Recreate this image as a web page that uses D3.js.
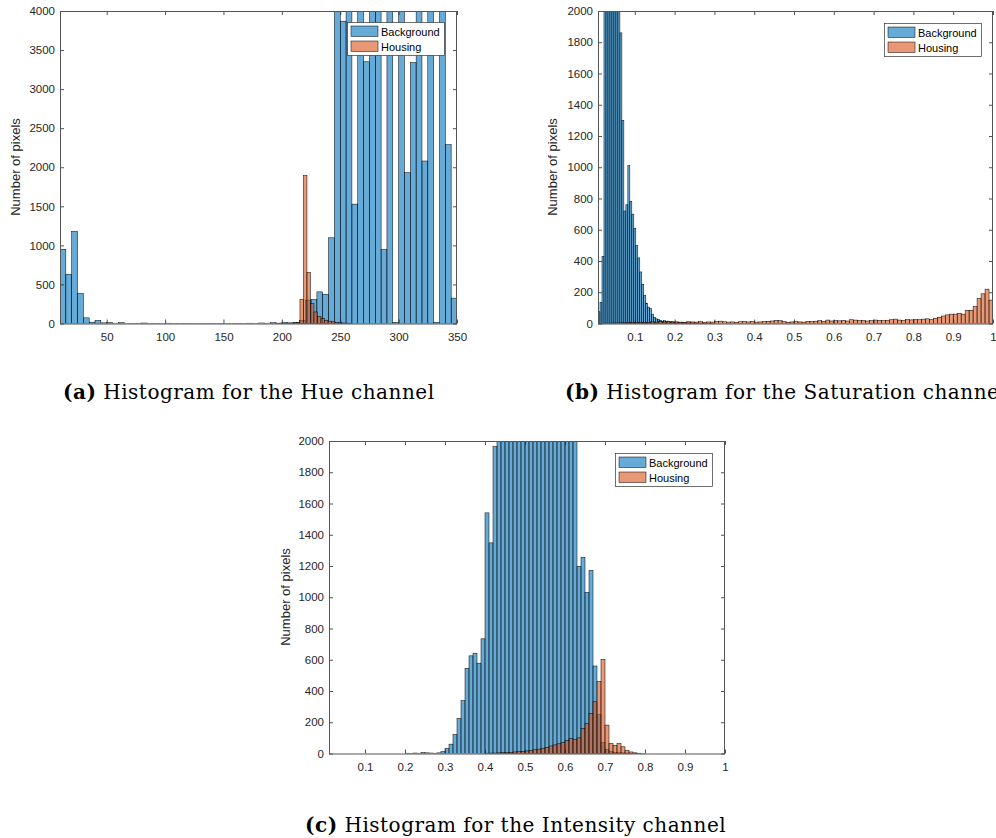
<!DOCTYPE html>
<html><head><meta charset="utf-8">
<script src="https://cdn.jsdelivr.net/npm/d3@7"></script>
<style>body{margin:0;background:#fff}</style></head>
<body><svg id="chart" width="996" height="838"></svg>
<script>
// ---------- Panel (a) Hue ----------
const hueBgStart = 10, hueBgWidth = 5;
const hueBg = [950,630,1180,385,72,17,40,8,12,4,10,3,2,4,6,2,3,2,4,2,1,2,1,2,1,2,1,3,2,1,3,2,4,3,6,4,10,5,12,8,15,40,300,307,405,375,1097,4600,3870,5200,1528,4900,3350,5600,4400,945,6100,15,5800,1930,3340,4700,2080,5300,15,6000,2290,325];
const hueHsStart = 194.5, hueHsWidth = 3;
const hueHs = [2,3,2,4,5,8,12,306,1894,655,255,148,93,64,42,30,22,15,10,6,4,3];
const hueXTicks = [50,100,150,200,250,300,350];
const hueYTicks = [0,500,1000,1500,2000,2500,3000,3500,4000];

// ---------- Panel (b) Saturation ----------
const satBgStart = 0.0075, satBgWidth = 0.005;
const satBg = [75,135,430,2600,3500,4200,4400,4200,3800,3300,2700,1860,1300,720,760,1010,780,700,610,500,420,330,250,180,130,105,95,60,40,30,25,20,15,18,12,15,10,12,8,10,7,8,6,5,6,4,5,3,4,3,2,3,2,2,1,2,1,1];
const satHsStart = 0.01, satHsWidth = 0.01;
const satHs = [1,2,2,3,3,4,4,5,6,
  6,7,8,8,10,9,12,10,11,9,
  10,9,8,11,10,9,12,8,10,9,
  12,15,11,9,10,8,11,12,10,13,
  9,10,12,14,16,20,18,12,8,10,
  12,10,9,13,12,15,18,14,22,16,
  18,17,20,16,24,22,18,20,16,19,
  22,20,18,21,24,28,22,20,25,23,
  26,24,28,30,25,34,40,48,55,60,
  60,65,60,85,85,110,160,190,220,150];
const satXTicks = [0.1,0.2,0.3,0.4,0.5,0.6,0.7,0.8,0.9,1];
const satYTicks = [0,200,400,600,800,1000,1200,1400,1600,1800,2000];

// ---------- Panel (c) Intensity ----------
const intBgStart = 0.20, intBgWidth = 0.01;
const intBg = [2,1,3,2,6,4,3,2,4,12,32,60,122,225,338,545,625,642,578,734,1540,1348,1965,2010,2400,2600,3000,3400,3700,3900,4000,4100,4000,3900,3700,3500,3300,3100,2900,2700,2500,2300,2150,1198,1256,1031,1172,560,250,70,25,12,8,5,4,3,2,2,1,1];
const intHsStart = 0.40, intHsWidth = 0.01;
const intHs = [2,3,3,4,5,6,8,10,12,14,16,20,24,28,34,40,48,55,62,70,82,95,88,100,160,192,257,331,460,603,182,64,53,64,43,21,10,4,2];
const intXTicks = [0.1,0.2,0.3,0.4,0.5,0.6,0.7,0.8,0.9,1];
const intYTicks = [0,200,400,600,800,1000,1200,1400,1600,1800,2000];

const seriesNames = ["Background","Housing"];
const seriesColors = ["#0072BD","#D95319"];

const svg = d3.select("#chart");
const AX = "#262626";
const SANS = "'Liberation Sans', Arial, Helvetica, sans-serif";

function panel(id, box, xDom, yDom, xTicks, yTicks, series, legend, ylab, xPad) {
  const x = d3.scaleLinear().domain(xDom).range([box.x0, box.x1]);
  const y = d3.scaleLinear().domain(yDom).range([box.y1, box.y0]);
  const g = svg.append("g");
  svg.append("clipPath").attr("id", id).append("rect")
    .attr("x", box.x0).attr("y", box.y0).attr("width", box.x1 - box.x0).attr("height", box.y1 - box.y0);
  const bars = g.append("g").attr("clip-path", `url(#${id})`);
  series.forEach((s, si) => {
    bars.append("g").selectAll("rect").data(s.values).join("rect")
      .attr("x", (d, i) => x(s.start + i * s.width))
      .attr("width", (d, i) => x(s.start + (i + 1) * s.width) - x(s.start + i * s.width))
      .attr("y", d => y(d))
      .attr("height", d => y(0) - y(d))
      .attr("fill", seriesColors[si]).attr("fill-opacity", 0.6)
      .attr("stroke", "#000").attr("stroke-width", 0.5);
  });
  const style = sel => {
    sel.select(".domain").remove();
    sel.selectAll("line").attr("stroke", AX).attr("stroke-width", 0.8);
    sel.selectAll("text").attr("fill", AX).attr("font-family", SANS).attr("font-size", 11.5);
  };
  g.append("g").attr("transform", `translate(0,${box.y1})`)
    .call(d3.axisBottom(x).tickValues(xTicks).tickSize(-4).tickPadding(xPad).tickFormat(d => String(d))).call(style);
  g.append("g").attr("transform", `translate(0,${box.y0})`)
    .call(d3.axisTop(x).tickValues(xTicks).tickSize(-4).tickFormat("")).call(style);
  g.append("g").attr("transform", `translate(${box.x0},0)`)
    .call(d3.axisLeft(y).tickValues(yTicks).tickSize(-4).tickPadding(5).tickFormat(d => String(d))).call(style);
  g.append("g").attr("transform", `translate(${box.x1},0)`)
    .call(d3.axisRight(y).tickValues(yTicks).tickSize(-4).tickFormat("")).call(style);
  g.append("rect").attr("x", box.x0 + 0.5).attr("y", box.y0 + 0.5)
    .attr("width", box.x1 - box.x0 - 1).attr("height", box.y1 - box.y0)
    .attr("fill", "none").attr("stroke", "#555").attr("stroke-width", 1);
  // y label
  g.append("text").attr("transform", `translate(${ylab.x},${ylab.y}) rotate(-90)`)
    .attr("text-anchor", "middle").attr("font-family", SANS).attr("font-size", 13).attr("fill", AX)
    .text("Number of pixels");
  // legend
  const lg = g.append("g").attr("transform", `translate(${legend.x},${legend.y})`);
  lg.append("rect").attr("x", 0.5).attr("y", 0.5).attr("width", 97).attr("height", 33)
    .attr("fill", "#fff").attr("stroke", "#333").attr("stroke-width", 0.7);
  seriesNames.forEach((n, i) => {
    lg.append("rect").attr("x", 4).attr("y", 4 + i * 15).attr("width", 27).attr("height", 10.5)
      .attr("fill", seriesColors[i]).attr("fill-opacity", 0.6).attr("stroke", "#000").attr("stroke-width", 0.5);
    lg.append("text").attr("x", 34).attr("y", 13.5 + i * 15).attr("font-family", SANS)
      .attr("font-size", 11).attr("fill", "#000").text(n);
  });
}

panel("clipA", {x0:60, x1:457, y0:11, y1:323.5}, [10,350], [0,4000], hueXTicks, hueYTicks,
  [{start:hueBgStart, width:hueBgWidth, values:hueBg},{start:hueHsStart, width:hueHsWidth, values:hueHs}],
  {x:347, y:22}, {x:20, y:167}, 9);

panel("clipB", {x0:598, x1:993, y0:11, y1:323.5}, [0.0075,1.0], [0,2000], satXTicks, satYTicks,
  [{start:satBgStart, width:satBgWidth, values:satBg},{start:satHsStart, width:satHsWidth, values:satHs}],
  {x:884, y:23}, {x:557, y:167}, 9);

panel("clipC", {x0:329, x1:725, y0:441, y1:753.5}, [0.01,1.0], [0,2000], intXTicks, intYTicks,
  [{start:intBgStart, width:intBgWidth, values:intBg},{start:intHsStart, width:intHsWidth, values:intHs}],
  {x:615, y:453}, {x:290, y:597}, 9);

// captions
const SERIF = "'DejaVu Serif', 'Liberation Serif', serif";
function caption(xp, yp, lab, txt) {
  const t = svg.append("text").attr("x", xp).attr("y", yp).attr("font-family", SERIF)
    .attr("font-size", 20).attr("letter-spacing", 0.5).attr("fill", "#000");
  t.append("tspan").attr("font-weight", "bold").text(lab);
  t.append("tspan").text(" " + txt);
}
caption(63, 399, "(a)", "Histogram for the Hue channel");
caption(565, 399, "(b)", "Histogram for the Saturation channel");
caption(305, 832, "(c)", "Histogram for the Intensity channel");
</script>
</body></html>
